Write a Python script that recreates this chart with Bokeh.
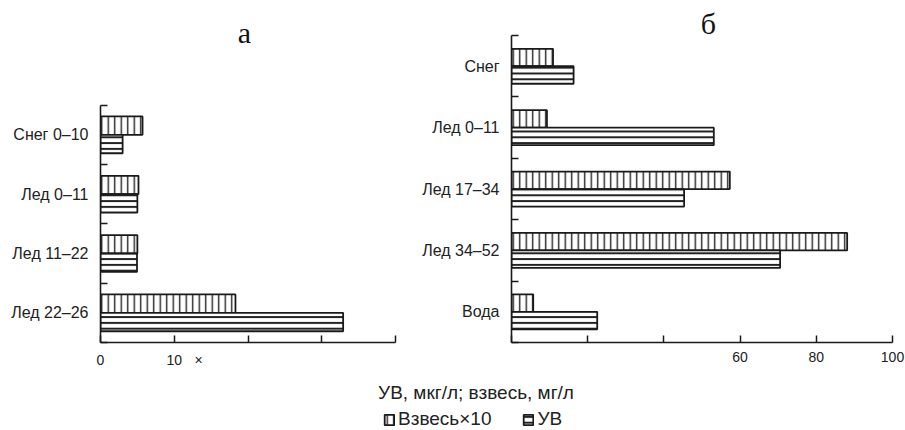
from bokeh.plotting import figure
from bokeh.models import (FixedTicker, Label, Legend, LegendItem, Range1d,
                          ColumnDataSource)
from bokeh.layouts import column, row
from bokeh.embed import file_html
from bokeh.resources import INLINE

# ---------------- data ----------------
cats_a = ["Снег 0–10", "Лед 0–11", "Лед 11–22", "Лед 22–26"]
vzves_a = [5.7, 5.15, 5.0, 18.3]
uv_a = [3.0, 5.0, 4.95, 32.9]
xticks_a = [0, 10, 20, 30, 40]          # tick marks on the value axis
xlabels_a = {0: "0", 10: "10", 13.3: "×"}  # labelled positions (as printed)

cats_b = ["Снег", "Лед 0–11", "Лед 17–34", "Лед 34–52", "Вода"]
vzves_b = [10.9, 9.3, 57.3, 88.1, 5.7]
uv_b = [16.3, 53.1, 45.3, 70.5, 22.5]
xticks_b = [0, 20, 40, 60, 80, 100]
xlabels_b = {60: "60", 80: "80", 100: "100"}

series_names = ["Взвесь×10", "УВ"]
panel_titles = ["а", "б"]
axis_title = "УВ, мкг/л; взвесь, мг/л"

FONT = "Liberation Sans"
INK = "#1a1a1a"
TXT = "#222222"

VZ_STYLE = dict(fill_color="white", line_color=INK, line_width=1.8,
                hatch_pattern="vertical_line", hatch_scale=6.5,
                hatch_weight=1.4, hatch_color="#222222")
UV_STYLE = dict(fill_color="white", line_color=INK, line_width=1.8,
                hatch_pattern="horizontal_line", hatch_scale=5.8,
                hatch_weight=2.0, hatch_color="#222222")

ROW_H = 370
BORDER_TOP = 5
BORDER_BOTTOM = 27


def make_panel(cats, vz, uv, xmax, xticks, xlabels, width, bl, br,
               ytop, bar_h, title, title_xy):
    n = len(cats)
    centers = [n - i - 0.5 for i in range(n)]
    bounds = [float(k) for k in range(n + 1)]
    src = ColumnDataSource(dict(
        cat=cats,
        y_vz=[c + bar_h / 2 for c in centers],
        y_uv=[c - bar_h / 2 for c in centers],
        vz=vz, uv=uv))
    p = figure(width=width, height=ROW_H, x_range=Range1d(0, xmax),
               y_range=Range1d(0, ytop), output_backend="svg",
               toolbar_location=None, title=None,
               min_border_left=bl, min_border_right=br,
               min_border_top=BORDER_TOP, min_border_bottom=BORDER_BOTTOM)
    p.hbar(y="y_vz", right="vz", left=0, height=bar_h, source=src, **VZ_STYLE)
    p.hbar(y="y_uv", right="uv", left=0, height=bar_h, source=src, **UV_STYLE)

    p.xgrid.visible = False
    p.ygrid.visible = False
    p.outline_line_color = None

    xa = p.xaxis[0]
    lab_pos = sorted(xlabels.keys())
    xa.ticker = FixedTicker(ticks=lab_pos, minor_ticks=xticks)
    xa.major_label_overrides = {float(k): v for k, v in xlabels.items()}
    xa.major_tick_line_color = None
    xa.major_tick_in = 0
    xa.major_tick_out = 0
    xa.minor_tick_in = 7
    xa.minor_tick_out = 0
    xa.minor_tick_line_width = 1.5
    xa.minor_tick_line_color = INK
    xa.axis_line_width = 1.6
    xa.axis_line_color = INK
    xa.major_label_standoff = 9
    xa.major_label_text_font = FONT
    xa.major_label_text_font_size = "14px"
    xa.major_label_text_color = TXT

    ya = p.yaxis[0]
    ya.bounds = (0, n)
    ya.ticker = FixedTicker(ticks=centers, minor_ticks=bounds)
    ya.major_label_overrides = {float(c): name for c, name in zip(centers, cats)}
    ya.major_tick_line_color = None
    ya.major_tick_in = 0
    ya.major_tick_out = 0
    ya.minor_tick_in = 7
    ya.minor_tick_out = 0
    ya.minor_tick_line_width = 1.5
    ya.minor_tick_line_color = INK
    ya.axis_line_width = 1.6
    ya.axis_line_color = INK
    ya.major_label_standoff = 12
    ya.major_label_text_font = FONT
    ya.major_label_text_font_size = "16px"
    ya.major_label_text_color = TXT

    p.add_layout(Label(x=title_xy[0], y=title_xy[1], text=title,
                       text_font="Liberation Serif", text_font_size="30px",
                       text_align="center", text_baseline="middle",
                       text_color="#111111"))
    return p


pa = make_panel(cats_a, vzves_a, uv_a, 40, xticks_a, xlabels_a,
                width=418, bl=100, br=23, ytop=5.68, bar_h=0.31,
                title=panel_titles[0], title_xy=(19.5, 5.22))

pb = make_panel(cats_b, vzves_b, uv_b, 100, xticks_b, xlabels_b,
                width=487, bl=93, br=13, ytop=5.49, bar_h=0.285,
                title=panel_titles[1], title_xy=(51.7, 5.19))

# bottom strip: axis title and legend
pc = figure(width=905, height=60, x_range=Range1d(0, 905),
            y_range=Range1d(0, 60), output_backend="svg",
            toolbar_location=None, title=None,
            min_border_left=0, min_border_right=0,
            min_border_top=0, min_border_bottom=0)
pc.axis.visible = False
pc.xgrid.visible = False
pc.ygrid.visible = False
pc.outline_line_color = None
# legend proxies (zero-length bars far outside the visible strip)
r1 = pc.hbar(y=[-100], right=[0], left=0, height=1, **VZ_STYLE)
r2 = pc.hbar(y=[-100], right=[0], left=0, height=1, **UV_STYLE)
pc.add_layout(Label(x=475.5, y=38, text=axis_title, text_font=FONT,
                    text_font_size="19px", text_align="center",
                    text_baseline="middle", text_color=TXT))
legend = Legend(items=[LegendItem(label=series_names[0], renderers=[r1]),
                       LegendItem(label=series_names[1], renderers=[r2])],
                location=(383, 0), orientation="horizontal",
                glyph_width=12, glyph_height=13, label_standoff=3,
                spacing=31, padding=0, margin=0, border_line_color=None,
                background_fill_alpha=0, label_text_font=FONT,
                label_text_font_size="19px", label_text_color=TXT)
pc.add_layout(legend)

layout = column(row(pa, pb), pc)
open("out.html", "w").write(file_html(layout, INLINE))
